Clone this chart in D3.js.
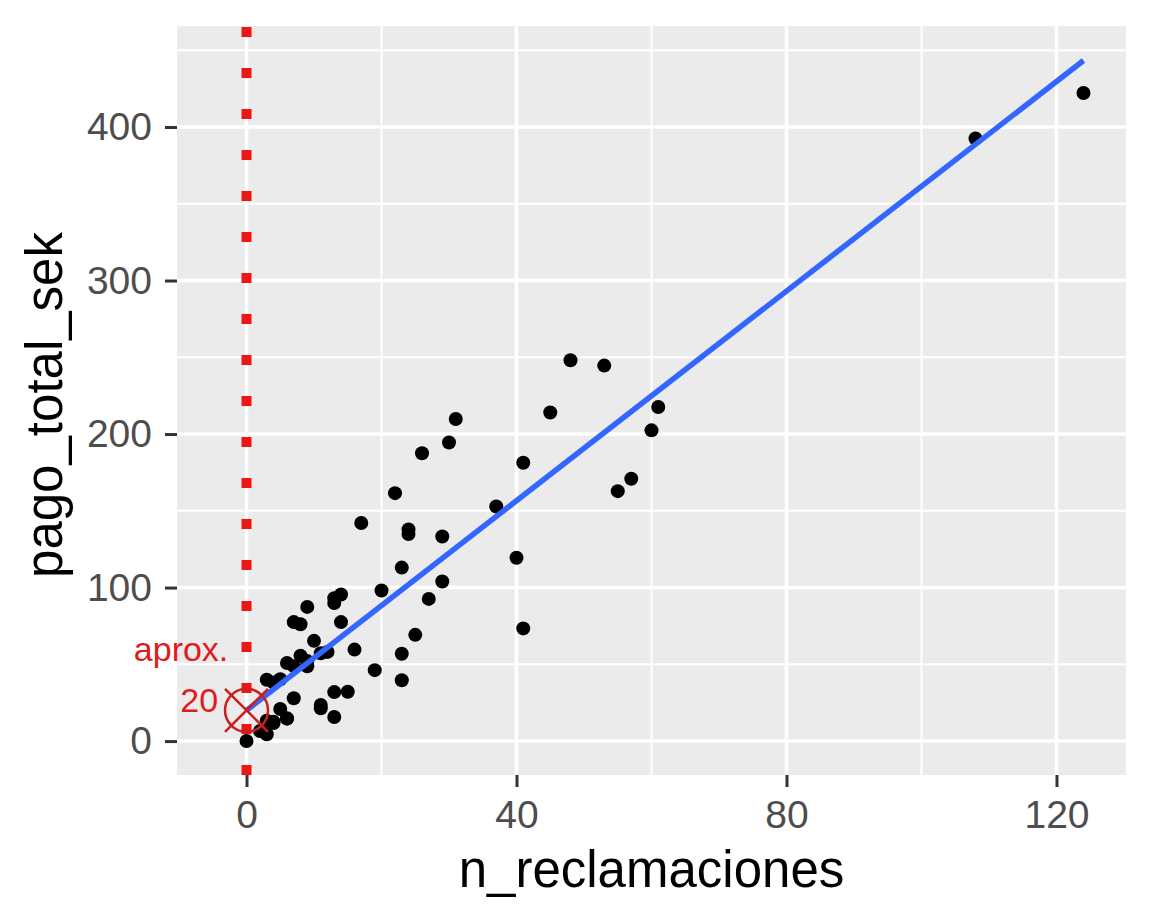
<!DOCTYPE html>
<html>
<head>
<meta http-equiv="Content-Type" content="text/html; charset=UTF-8">
<script src="https://d3js.org/d3.v7.min.js"></script>
<style>
  body { margin: 0; background: #fff; }
  text { font-family: "Liberation Sans", Arial, sans-serif; }
</style>
</head>
<body>
<div id="my_dataviz"></div>
<script>
// swedish auto insurance: claims vs total payment (thousand SEK)
var n_reclamaciones = [108, 19, 13, 124, 40, 57, 23, 14, 45, 10, 5, 48, 11, 23, 7, 2, 24, 6, 3, 23,
  6, 9, 9, 3, 29, 7, 4, 20, 7, 4, 0, 25, 6, 5, 22, 11, 61, 12, 4, 16, 13, 60, 41, 37, 55, 41,
  11, 27, 8, 3, 17, 13, 13, 15, 8, 29, 30, 24, 9, 31, 14, 53, 26];
var pago_total_sek = [392.5, 46.2, 15.7, 422.2, 119.4, 170.9, 56.9, 77.5, 214, 65.3, 20.9, 248.1,
  23.5, 39.6, 48.8, 6.6, 134.9, 50.9, 4.4, 113, 14.8, 48.7, 52.1, 13.2, 103.9, 77.5, 11.8, 98.1,
  27.9, 38.1, 0, 69.2, 14.6, 40.3, 161.5, 57.2, 217.6, 58.1, 12.6, 59.6, 89.9, 202.4, 181.3,
  152.8, 162.8, 73.4, 21.3, 92.6, 76.1, 39.9, 142.1, 93, 31.9, 32.1, 55.6, 133.3, 194.5, 137.9,
  87.4, 209.8, 95.5, 244.6, 187.5];

var xTicks = [0, 40, 80, 120];
var xMinor = [20, 60, 100];
var yTicks = [0, 100, 200, 300, 400];
var yMinor = [50, 150, 250, 350, 450];

// annotation: intercept approx 20
var marca = {x: 0, y: 20};
var anotaciones = [
  {label: "aprox.", x: -2.7, y: 52},
  {label: "20", x: -4.2, y: 19}
];

var data = n_reclamaciones.map(function(d, i) { return {x: d, y: pago_total_sek[i]}; });

// least squares fit (geom_smooth method = "lm")
var mx = d3.mean(data, function(d) { return d.x; }),
    my = d3.mean(data, function(d) { return d.y; });
var slope = d3.sum(data, function(d) { return (d.x - mx) * (d.y - my); }) /
            d3.sum(data, function(d) { return (d.x - mx) * (d.x - mx); });
var intercept = my - slope * mx;
var xExt = d3.extent(data, function(d) { return d.x; });
var fit = xExt.map(function(v) { return {x: v, y: intercept + slope * v}; });

var margin = {top: 26, right: 26, bottom: 147, left: 177},
    width = 1152 - margin.left - margin.right,
    height = 922 - margin.top - margin.bottom;

var svg = d3.select("#my_dataviz")
  .append("svg")
    .attr("width", 1152)
    .attr("height", 922)
  .append("g")
    .attr("transform", "translate(" + margin.left + "," + margin.top + ")");

var x = d3.scaleLinear().domain([-10.3, 130.3]).range([0, width]);
var y = d3.scaleLinear().domain([-22.1, 465.8]).range([height, 0]);

// panel
svg.append("rect")
  .attr("width", width)
  .attr("height", height)
  .attr("fill", "#ebebeb");

// grid
svg.selectAll(".vminor").data(xMinor).enter().append("line")
  .attr("x1", function(d) { return x(d); }).attr("x2", function(d) { return x(d); })
  .attr("y1", 0).attr("y2", height)
  .attr("stroke", "#fff").attr("stroke-width", 2);
svg.selectAll(".hminor").data(yMinor).enter().append("line")
  .attr("y1", function(d) { return y(d); }).attr("y2", function(d) { return y(d); })
  .attr("x1", 0).attr("x2", width)
  .attr("stroke", "#fff").attr("stroke-width", 2);
svg.selectAll(".vmajor").data(xTicks).enter().append("line")
  .attr("x1", function(d) { return x(d); }).attr("x2", function(d) { return x(d); })
  .attr("y1", 0).attr("y2", height)
  .attr("stroke", "#fff").attr("stroke-width", 3.5);
svg.selectAll(".hmajor").data(yTicks).enter().append("line")
  .attr("y1", function(d) { return y(d); }).attr("y2", function(d) { return y(d); })
  .attr("x1", 0).attr("x2", width)
  .attr("stroke", "#fff").attr("stroke-width", 3.5);

// axes
var xAxis = svg.append("g")
  .attr("transform", "translate(0," + height + ")")
  .call(d3.axisBottom(x).tickValues(xTicks).tickSize(12).tickPadding(13));
var yAxis = svg.append("g")
  .call(d3.axisLeft(y).tickValues(yTicks).tickSize(12).tickPadding(13));

[xAxis, yAxis].forEach(function(a) {
  a.select(".domain").remove();
  a.selectAll(".tick line").attr("stroke", "#333").attr("stroke-width", 3);
  a.selectAll(".tick text")
    .attr("fill", "#4d4d4d")
    .style("font-size", "39px")
    .style("font-family", "'Liberation Sans', Arial, sans-serif");
});

// points
svg.selectAll("circle.pt").data(data).enter().append("circle")
  .attr("class", "pt")
  .attr("cx", function(d) { return x(d.x); })
  .attr("cy", function(d) { return y(d.y); })
  .attr("r", 7)
  .attr("fill", "#000");

// regression line
svg.append("path")
  .datum(fit)
  .attr("fill", "none")
  .attr("stroke", "#3366ff")
  .attr("stroke-width", 5.5)
  .attr("d", d3.line().x(function(d) { return x(d.x); }).y(function(d) { return y(d.y); }));

// dotted red line at x = 0 (pattern starts at the bottom)
svg.append("line")
  .attr("x1", x(0)).attr("x2", x(0))
  .attr("y1", height).attr("y2", 0)
  .attr("stroke", "#f01414")
  .attr("stroke-width", 10)
  .attr("stroke-dasharray", "10 31");

// circle with cross
var r = 21.5, cx = x(marca.x), cy = y(marca.y);
var mk = svg.append("g").attr("stroke", "#c8201e").attr("stroke-width", 2.5).attr("fill", "none");
mk.append("circle").attr("cx", cx).attr("cy", cy).attr("r", r);
mk.append("line").attr("x1", cx - r).attr("y1", cy - r).attr("x2", cx + r).attr("y2", cy + r);
mk.append("line").attr("x1", cx - r).attr("y1", cy + r).attr("x2", cx + r).attr("y2", cy - r);

svg.selectAll("text.ann").data(anotaciones).enter().append("text")
  .attr("class", "ann")
  .attr("x", function(d) { return x(d.x); })
  .attr("y", function(d) { return y(d.y); })
  .attr("text-anchor", "end")
  .attr("fill", "#e31a1c")
  .style("font-size", "34px")
  .text(function(d) { return d.label; });

// axis titles
svg.append("text")
  .attr("x", width / 2)
  .attr("y", 887 - margin.top)
  .attr("text-anchor", "middle")
  .attr("fill", "#000")
  .style("font-size", "51px")
  .text("n_reclamaciones");

svg.append("text")
  .attr("transform", "translate(" + (62 - margin.left) + "," + (405 - margin.top) + ") rotate(-90)")
  .attr("text-anchor", "middle")
  .attr("fill", "#000")
  .style("font-size", "51px")
  .text("pago_total_sek");
</script>
</body></html>
